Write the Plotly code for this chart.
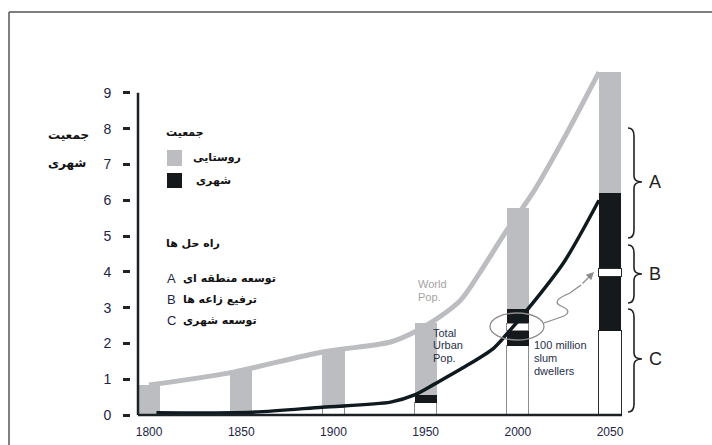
import plotly.graph_objects as go

# ---------------- data (billions of people) ----------------
years = [1800, 1850, 1900, 1950, 2000, 2050]
year_labels = ["1800", "1850", "1900", "1950", "2000", "2050"]
urban_formal = [None, None, 0.22, 0.34, 1.93, 2.35]      # white part of each bar
slum_lower = [None, None, None, 0.22, 0.42, 1.53]        # black band
slum_upgraded = [None, None, None, None, 0.22, 0.22]     # white gap (100 million slum dwellers)
slum_upper = [None, None, None, None, 0.39, 2.10]        # black band
rural = [0.84, 1.26, 1.60, 2.01, 2.82, 3.38]             # grey part

world_years = [1800, 1843, 1894, 1931, 1944, 1955, 1969, 1982, 1993, 2009, 2026, 2044]
world_pop = [0.84, 1.17, 1.76, 2.04, 2.32, 2.65, 3.21, 4.19, 5.08, 6.28, 7.82, 9.58]

urban_years = [1804, 1856, 1894, 1931, 1944, 1955, 1970, 1987, 1995, 2005, 2025, 2044]
urban_pop = [0.06, 0.08, 0.22, 0.36, 0.56, 0.87, 1.31, 1.87, 2.32, 2.93, 4.27, 6.00]

y_ticks = [0, 1, 2, 3, 4, 5, 6, 7, 8, 9]

# ---------------- styling / layout ----------------
GREY = "#bcbdc0"
BLACK = "#16191c"
FA = "DejaVu Sans"
EN = "Liberation Sans"
W, H = 712, 445
L, R, T, B = 131, 622, 66, 415
X_RANGE = [1790.2, 2056.5]
Y_RANGE = [0, 9.75]


def px(x):
    return (x - L) / (R - L)


def py(y):
    return (B - y) / (B - T)


fig = go.Figure()

white_lines = ["#8c8c8c"] * 5 + ["#2a2a2a"]
fig.add_trace(go.Bar(x=years, y=urban_formal, width=12, name="urban",
                     marker=dict(color="white", line=dict(color=white_lines, width=1))))
fig.add_trace(go.Bar(x=years, y=slum_lower, width=12, name="slum",
                     marker=dict(color=BLACK, line=dict(width=0))))
fig.add_trace(go.Bar(x=years, y=slum_upgraded, width=12, name="upgraded",
                     marker=dict(color="white", line=dict(color=white_lines, width=1))))
fig.add_trace(go.Bar(x=years, y=slum_upper, width=12, name="slum2",
                     marker=dict(color=BLACK, line=dict(width=0))))
fig.add_trace(go.Bar(x=years, y=rural, width=12, name="rural",
                     marker=dict(color=GREY, line=dict(width=0))))

fig.add_trace(go.Scatter(x=world_years, y=world_pop, mode="lines",
                         line=dict(color=GREY, width=5, shape="spline", smoothing=0.8)))
fig.add_trace(go.Scatter(x=urban_years, y=urban_pop, mode="lines",
                         line=dict(color="#0f1a20", width=3.5, shape="spline", smoothing=0.8)))

shapes = []
# frame
shapes.append(dict(type="line", xref="paper", yref="paper", x0=px(9), x1=px(730), y0=py(12), y1=py(12),
                   line=dict(color="#555", width=1.5)))
shapes.append(dict(type="line", xref="paper", yref="paper", x0=px(9), x1=px(9), y0=py(12), y1=py(460),
                   line=dict(color="#555", width=1.5)))
# axis lines
shapes.append(dict(type="line", xref="paper", yref="paper", x0=px(138), x1=1, y0=0, y1=0,
                   line=dict(color="#1c2126", width=2.5)))
shapes.append(dict(type="line", xref="paper", yref="paper", x0=px(138), x1=px(138), y0=0, y1=9 / Y_RANGE[1],
                   line=dict(color="#1c2126", width=2.5)))
# legend swatches
shapes.append(dict(type="rect", xref="paper", yref="paper", x0=px(167), x1=px(182), y0=py(166), y1=py(150),
                   fillcolor=GREY, line=dict(width=0)))
shapes.append(dict(type="rect", xref="paper", yref="paper", x0=px(167), x1=px(182), y0=py(188), y1=py(173),
                   fillcolor=BLACK, line=dict(width=0)))
# ellipse around slum dwellers of 2000
shapes.append(dict(type="circle", xref="paper", yref="paper", x0=px(490), x1=px(544), y0=py(340), y1=py(313),
                   line=dict(color="#8c8c8c", width=1.3)))


def path(pts):
    out = []
    for cmd, coords in pts:
        s = " ".join(f"{px(a):.5f},{py(b):.5f}" for a, b in coords)
        out.append(f"{cmd}{s}")
    return " ".join(out)


# squiggle
shapes.append(dict(type="path", xref="paper", yref="paper", line=dict(color="#8c8c8c", width=1.3),
                   path=path([("M", [(544, 323)]), ("L", [(564, 316)]),
                              ("Q", [(573, 311), (561, 306)]), ("Q", [(550, 301), (570, 293)]),
                              ("L", [(581, 285)])])))


def brace(top, bot, mid):
    x0, xs, xt = 628, 634, 642
    return path([("M", [(x0, top)]), ("Q", [(xs, top), (xs, top + 8)]), ("L", [(xs, mid - 6)]),
                 ("Q", [(xs, mid), (xt, mid)]), ("Q", [(xs, mid), (xs, mid + 6)]),
                 ("L", [(xs, bot - 8)]), ("Q", [(xs, bot), (x0, bot)])])


for top, bot, mid in [(128, 238, 182), (245, 303, 274), (309, 412, 359)]:
    shapes.append(dict(type="path", xref="paper", yref="paper", path=brace(top, bot, mid),
                       line=dict(color="#222", width=1.6)))

ann = []


def text(x, y, s, size, color, family, xanchor="left"):
    ann.append(dict(x=px(x), y=py(y), xref="paper", yref="paper", text=s, showarrow=False,
                    xanchor=xanchor, yanchor="middle", align="left",
                    font=dict(size=size, color=color, family=family)))


# y title
text(46, 135, "<b>جمعیت</b>", 12, "#111", FA)
text(46, 163, "<b>شهری</b>", 12, "#111", FA)
# legend
text(164, 132, "<b>جمعیت</b>", 11, "#111", FA)
text(191, 157, "<b>روستایی</b>", 11, "#111", FA)
text(194, 180, "<b>شهری</b>", 11, "#111", FA)
text(164, 243, "<b>راه حل ها</b>", 11, "#111", FA)
for letter, label, yy in [("A", "توسعه منطقه ای", 278), ("B", "ترفیع زاعه ها", 299), ("C", "توسعه شهری", 320)]:
    text(165, yy, letter, 13, "#1d2545", EN)
    text(181, yy, "<b>" + label + "</b>", 11, "#111", FA)
# chart notes
for s, yy in [("World", 284), ("Pop.", 297)]:
    text(416, yy, s, 11, "#a3a3a3", EN)
for s, yy in [("Total", 333), ("Urban", 345), ("Pop.", 358)]:
    text(431, yy, s, 11, "#26304a", EN)
for s, yy in [("100 million", 345), ("slum", 358), ("dwellers", 371)]:
    text(532, yy, s, 11, "#26304a", EN)
# brace letters
for s, yy in [("A", 182), ("B", 274), ("C", 359)]:
    text(655, yy, s, 18, "#222", EN, xanchor="center")

# arrow head
ann.append(dict(x=px(594), y=py(272), xref="paper", yref="paper", ax=-13, ay=13, text="",
                showarrow=True, arrowhead=2, arrowsize=1.2, arrowwidth=1.3, arrowcolor="#8c8c8c"))

fig.update_layout(
    width=W, height=H,
    margin=dict(l=L, r=W - R, t=T, b=H - B, pad=0, autoexpand=False),
    paper_bgcolor="white", plot_bgcolor="white",
    barmode="stack", showlegend=False, hovermode=False,
    shapes=shapes, annotations=ann,
    xaxis=dict(range=X_RANGE, tickvals=years, ticktext=year_labels, showgrid=False, zeroline=False,
               showline=False, ticks="", ticklabelstandoff=8, automargin=False,
               tickfont=dict(size=12, color="#1d2545", family=EN)),
    yaxis=dict(range=Y_RANGE, tickvals=y_ticks, showgrid=False, zeroline=False, showline=False,
               ticks="outside", ticklen=7, tickwidth=2.5, tickcolor="#222", ticklabelstandoff=9,
               automargin=False, tickfont=dict(size=14, color="#1d2545", family=EN)),
)

fig.write_html("out.html", config={"displayModeBar": False},
               post_script="document.body.style.margin='0';document.body.style.padding='0';"
                           "document.body.style.overflow='hidden';")
